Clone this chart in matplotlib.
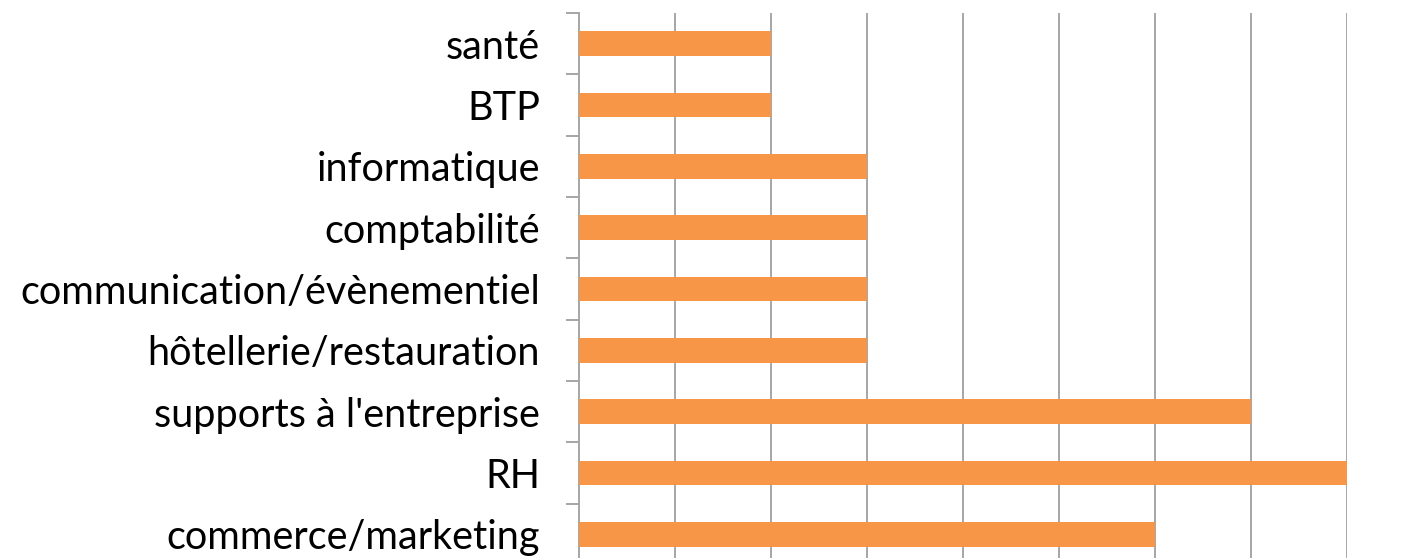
import matplotlib

matplotlib.use("Agg")
import matplotlib.pyplot as plt
import numpy as np

# categories from top to bottom as shown
categories = ["santé", "BTP", "informatique", "comptabilité",
              "communication/évènementiel", "hôtellerie/restauration",
              "supports à l'entreprise", "RH", "commerce/marketing"]
values = [2, 2, 3, 3, 3, 3, 7, 8, 6]

W, H = 1427, 558
fig = plt.figure(figsize=(W / 100, H / 100), dpi=100)
# axes extends a bit past the bottom of the picture, as in the reference
ax = fig.add_axes([579 / W, -7 / H, (1347 - 579) / W, (565 - 13) / H])

y = np.arange(len(categories))
ax.barh(y, values, height=0.4, color="#F79646", zorder=3)
ax.set_ylim(len(categories) - 0.5, -0.5)
ax.set_xlim(0, 8)

grid_c = "#A6A6A6"
ax.set_xticks(np.arange(1, 9))
ax.xaxis.grid(True, color=grid_c, lw=1.4, zorder=0)
ax.tick_params(axis="x", length=0, labelbottom=False)

ax.set_yticks(y)
ax.set_yticklabels(categories, fontsize=28.5, family="Lato")
ax.set_yticks(np.arange(len(categories) + 1) - 0.5, minor=True)
ax.tick_params(axis="y", which="major", length=0, pad=28)
ax.tick_params(axis="y", which="minor", length=9.4, width=1.4, color=grid_c)

for side in ("top", "right", "bottom"):
    ax.spines[side].set_visible(False)
ax.spines["left"].set_color(grid_c)
ax.spines["left"].set_linewidth(1.4)

fig.savefig("out.png", dpi=100)
